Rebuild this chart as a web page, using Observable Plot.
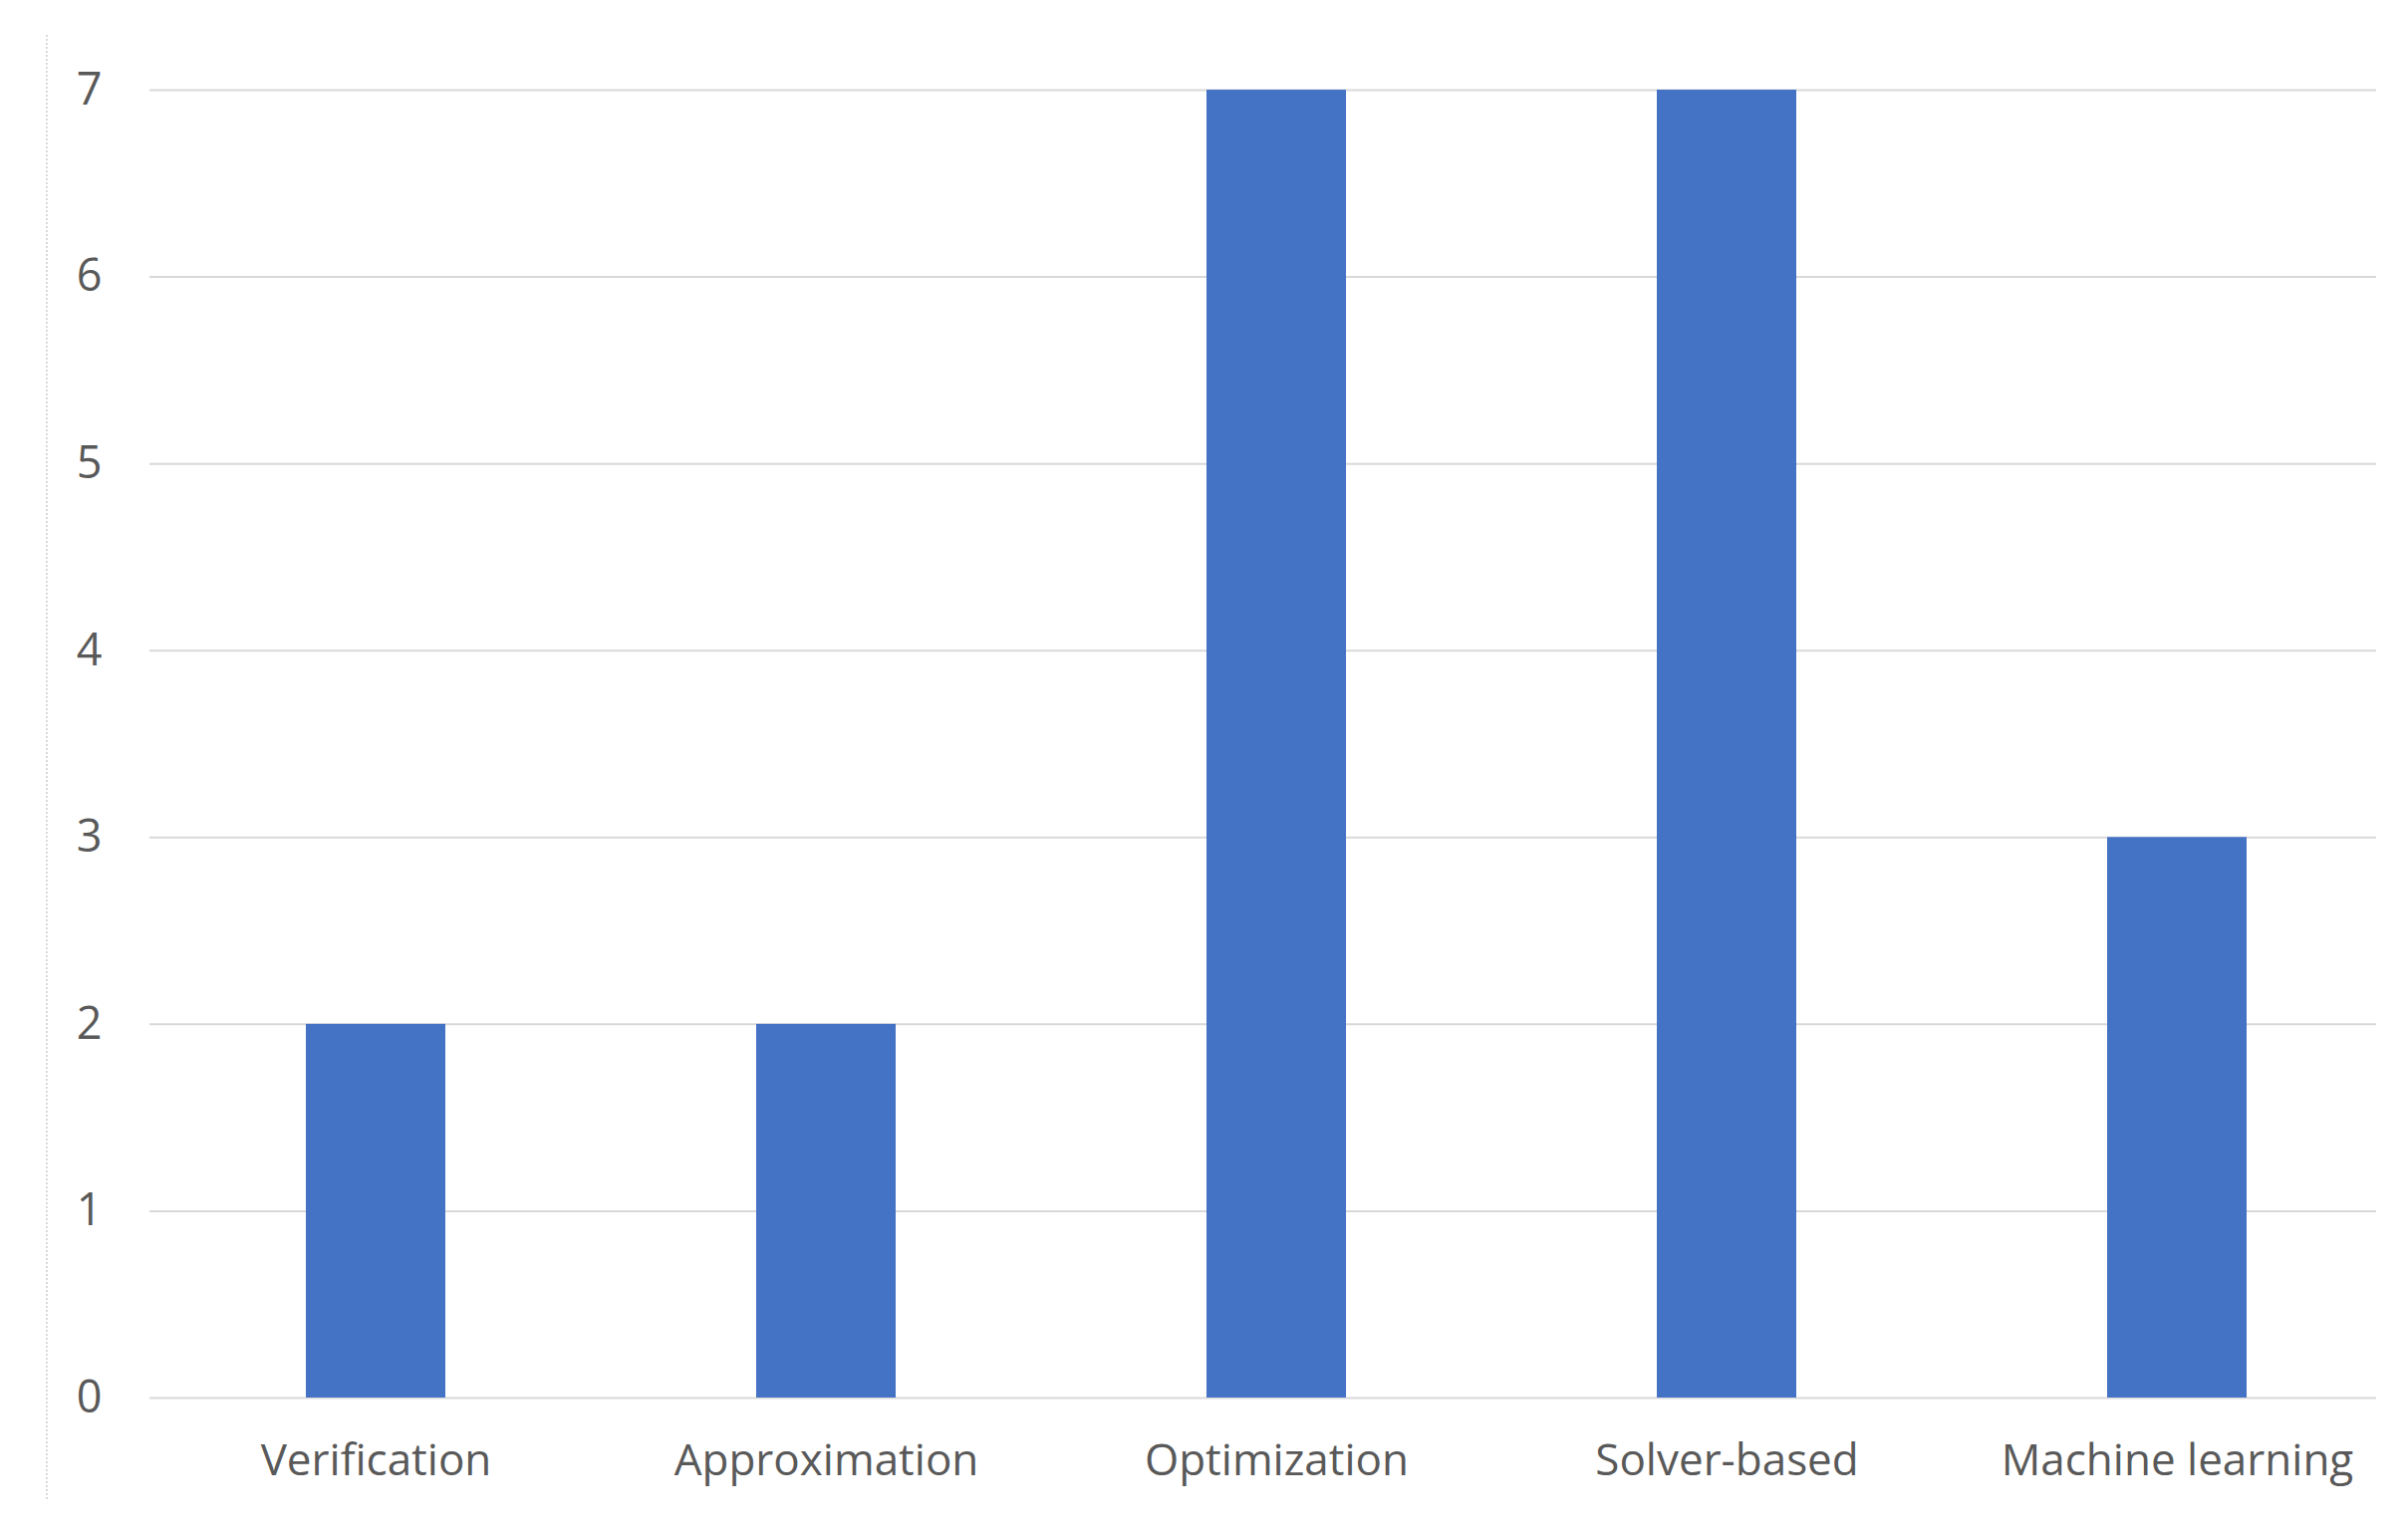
<!DOCTYPE html>
<html>
<head>
<meta charset="utf-8">
<script src="https://cdn.jsdelivr.net/npm/d3@7"></script>
<script src="https://cdn.jsdelivr.net/npm/@observablehq/plot@0.6"></script>
<style>
  html, body { margin: 0; padding: 0; background: #fff; }
  #wrap { position: relative; width: 2417px; height: 1538px; }
  #edge { position: absolute; left: 46px; top: 35px; height: 1470px; border-left: 2px dotted #d9d9d9; }
</style>
</head>
<body>
<div id="wrap"><div id="edge"></div></div>
<script>
const categories = ["Verification", "Approximation", "Optimization", "Solver-based", "Machine learning"];
const counts = [2, 2, 7, 7, 3];
const yTicks = [0, 1, 2, 3, 4, 5, 6, 7];

const data = categories.map((c, i) => ({category: c, count: counts[i]}));

const chart = Plot.plot({
  width: 2417,
  height: 1538,
  marginTop: 90,
  marginBottom: 135,
  marginLeft: 150,
  marginRight: 4,
  style: {fontFamily: "'Open Sans', sans-serif", fontSize: "44px", color: "#595959", background: "#fff"},
  x: {domain: categories, paddingInner: 0.69, paddingOuter: 0.345, label: null},
  y: {domain: [0, 7], label: null},
  marks: [
    Plot.ruleY(yTicks, {stroke: "#d9d9d9", strokeWidth: 2, insetRight: 28}),
    Plot.barY(data, {x: "category", y: "count", fill: "#4472C4"}),
    Plot.axisY(yTicks, {tickSize: 0, tickPadding: 48, fontSize: 45, fill: "#595959", tickFormat: d3.format("d")}),
    Plot.axisX({tickSize: 0, tickPadding: 46, fontSize: 44, fill: "#595959"})
  ]
});
document.getElementById("wrap").appendChild(chart);
</script>
</body>
</html>
